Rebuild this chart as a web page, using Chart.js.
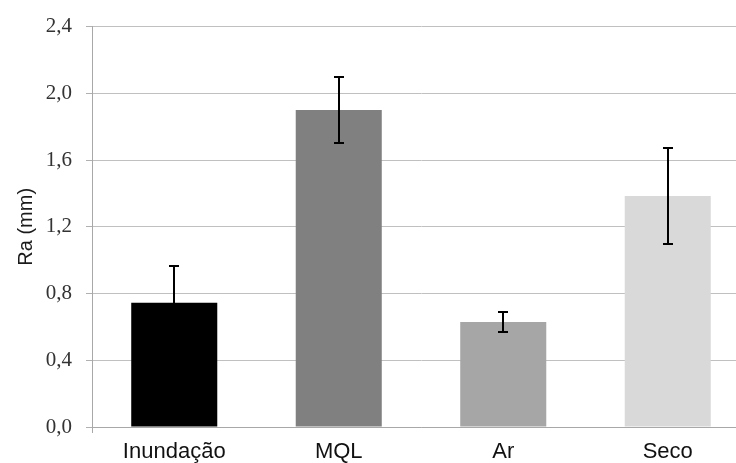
<!DOCTYPE html>
<html>
<head>
<meta charset="utf-8">
<script src="https://cdn.jsdelivr.net/npm/chart.js@4/dist/chart.umd.min.js"></script>
<style>
  html, body { margin: 0; padding: 0; background: #fff; overflow: hidden; }
  #wrap { width: 752px; height: 463px; }
</style>
</head>
<body>
<div id="wrap"><canvas id="c" width="752" height="463"></canvas></div>
<script>
const categories = ['Inundação', 'MQL', 'Ar', 'Seco'];
const values = [0.745, 1.90, 0.63, 1.385];
const errors = [0.22, 0.20, 0.062, 0.29];
const barColors = ['#000000', '#808080', '#a6a6a6', '#d9d9d9'];
const yTicks = [0, 0.4, 0.8, 1.2, 1.6, 2.0, 2.4];

const errorBarPlugin = {
  id: 'errorBars',
  afterDatasetsDraw(chart) {
    const ctx = chart.ctx;
    const meta = chart.getDatasetMeta(0);
    const yScale = chart.scales.y;
    ctx.save();
    ctx.strokeStyle = '#000000';
    ctx.lineWidth = 2;
    meta.data.forEach((bar, i) => {
      const x = Math.round(bar.x);
      const yTop = Math.round(yScale.getPixelForValue(values[i] + errors[i]));
      const yBot = Math.round(yScale.getPixelForValue(values[i] - errors[i]));
      const half = 5;
      ctx.beginPath();
      ctx.moveTo(x, yTop); ctx.lineTo(x, yBot);
      ctx.moveTo(x - half, yTop); ctx.lineTo(x + half, yTop);
      ctx.moveTo(x - half, yBot); ctx.lineTo(x + half, yBot);
      ctx.stroke();
    });
    ctx.restore();
  }
};

new Chart(document.getElementById('c'), {
  type: 'bar',
  data: {
    labels: categories,
    datasets: [{
      data: values,
      backgroundColor: barColors,
      borderWidth: 0,
      barPercentage: 0.523,
      categoryPercentage: 1.0
    }]
  },
  options: {
    responsive: false,
    animation: false,
    devicePixelRatio: 1,
    layout: { padding: { top: 23, right: 2, bottom: 0, left: 0 } },
    plugins: { legend: { display: false }, tooltip: { enabled: false } },
    scales: {
      y: {
        min: 0,
        max: 2.4,
        afterFit(s) { s.width = 92; },
        afterBuildTicks(s) { s.ticks = yTicks.map(v => ({ value: v })); },
        ticks: {
          padding: 14,
          color: '#333333',
          font: { family: '"Liberation Serif", "Times New Roman", serif', size: 21 },
          callback: v => Number(v).toFixed(1).replace('.', ',')
        },
        grid: { color: '#c0c0c0', lineWidth: 1, tickLength: 6, tickColor: '#b0b0b0' },
        border: { color: '#a8a8a8', width: 1 },
        title: {
          display: true,
          text: 'Ra (mm)',
          color: '#1a1a1a',
          font: { family: '"Liberation Sans", Arial, sans-serif', size: 20 },
          padding: { top: 14, bottom: 0 }
        }
      },
      x: {
        afterFit(s) { s.height = 36; },
        ticks: {
          padding: 6,
          color: '#111111',
          maxRotation: 0,
          font: { family: '"Liberation Sans", Arial, sans-serif', size: 22 }
        },
        grid: {
          drawOnChartArea: false,
          tickLength: 6,
          color: 'transparent',
          tickColor: c => c.index === 0 ? '#a8a8a8' : 'transparent'
        },
        border: { color: '#a8a8a8', width: 1 }
      }
    }
  },
  plugins: [errorBarPlugin]
});
</script>
</body>
</html>
